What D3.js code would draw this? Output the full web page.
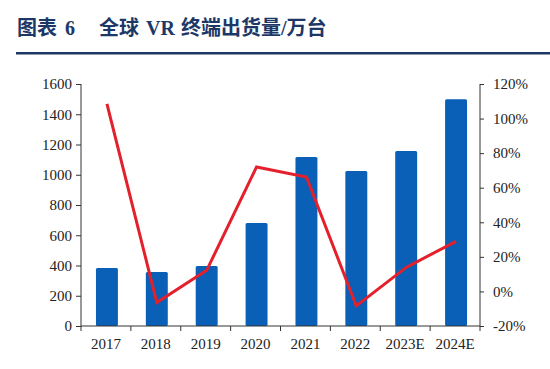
<!DOCTYPE html>
<html>
<head>
<meta charset="utf-8">
<script src="https://cdn.jsdelivr.net/npm/d3@7/dist/d3.min.js"></script>
<style>
  body { margin: 0; background: #fff; }
  .vis { width: 550px; height: 369px; }
  text { font-family: "Liberation Serif", "DejaVu Serif", serif; }
</style>
</head>
<body>
<div class="vis"></div>
<script>

//  data
var years = ["2017", "2018", "2019", "2020", "2021", "2022", "2023E", "2024E"];
var shipments = [383, 357, 397, 681, 1117, 1025, 1157, 1500];   // 万台
var growth = [108.5, -6.4, 12.2, 72, 66.2, -8.4, 13.9, 29];     // %
var leftTicks = [0, 200, 400, 600, 800, 1000, 1200, 1400, 1600];
var rightTicks = [-20, 0, 20, 40, 60, 80, 100, 120];

var svg = d3.select(".vis").append("svg")
	.attr("width", 550)
	.attr("height", 369);

// title + rule
var title = svg.append("text")
	.attr("x", 17)
	.attr("y", 35)
	.style("font-weight", "bold")
	.style("font-size", "20px")
	.style("white-space", "pre")
	.attr("fill", "#1d3766");

title.append("tspan").style("font-family", "'Noto Sans CJK SC', sans-serif").text("图表");
title.append("tspan").style("font-family", "'Liberation Serif', serif").attr("dx", 3).text(" 6    ");
title.append("tspan").style("font-family", "'Noto Sans CJK SC', sans-serif").attr("dx", 4).text("全球");
title.append("tspan").style("font-family", "'Liberation Serif', serif").attr("dx", 2).text(" VR ");
title.append("tspan").style("font-family", "'Noto Sans CJK SC', sans-serif").attr("dx", 1).text("终端出货量");
title.append("tspan").style("font-family", "'Liberation Serif', serif").text("/");
title.append("tspan").style("font-family", "'Noto Sans CJK SC', sans-serif").text("万台");

svg.append("rect")
	.attr("x", 16)
	.attr("y", 52)
	.attr("width", 534)
	.attr("height", 2.5)
	.attr("fill", "#1d3766");

var plot = { left: 81, right: 480, top: 84, bottom: 326 };

var x = d3.scaleBand()
	.domain(years)
	.range([plot.left, plot.right]);

var yL = d3.scaleLinear().domain([0, 1600]).range([plot.bottom, plot.top]);
var yR = d3.scaleLinear().domain([-20, 120]).range([plot.bottom, plot.top]);

var chart = svg.append("g");

// bars
var barW = x.bandwidth() * 0.44;
chart.selectAll(".bar")
	.data(shipments)
	.enter().append("rect")
	.attr("class", "bar")
	.attr("x", function(d, i) { return x(years[i]) + x.bandwidth() / 2 - barW / 2 + 1; })
	.attr("y", function(d) { return yL(d); })
	.attr("width", barW)
	.attr("height", function(d) { return plot.bottom - yL(d); })
	.attr("rx", 1.5)
	.attr("fill", "#0a5fb6");

// growth line
var line = d3.line()
	.x(function(d, i) { return x(years[i]) + x.bandwidth() / 2 + 1; })
	.y(function(d) { return yR(d); });

chart.append("path")
	.datum(growth)
	.attr("d", line)
	.attr("fill", "none")
	.attr("stroke", "#e3202b")
	.attr("stroke-width", 3)
	.attr("stroke-linejoin", "miter");

// axes
var axisColor = "#333";

var leftAxis = svg.append("g")
	.attr("transform", "translate(" + plot.left + ",0)")
	.call(d3.axisLeft(yL).tickValues(leftTicks).tickSize(5).tickPadding(4)
		.tickFormat(d3.format("d")));

var rightAxis = svg.append("g")
	.attr("transform", "translate(" + plot.right + ",0)")
	.call(d3.axisRight(yR).tickValues(rightTicks).tickSize(4).tickPadding(9)
		.tickFormat(function(d) { return d + "%"; }));

var bottomAxis = svg.append("g")
	.attr("transform", "translate(0," + plot.bottom + ")")
	.call(d3.axisBottom(x).tickSize(0).tickPadding(12));

// tick marks at category boundaries
bottomAxis.selectAll(".bound")
	.data(d3.range(years.length + 1))
	.enter().append("line")
	.attr("class", "bound")
	.attr("x1", function(i) { return plot.left + i * x.step(); })
	.attr("x2", function(i) { return plot.left + i * x.step(); })
	.attr("y1", 0)
	.attr("y2", 5)
	.attr("stroke", axisColor);

[leftAxis, rightAxis, bottomAxis].forEach(function(a) {
	a.select(".domain").attr("stroke", axisColor);
	a.selectAll(".tick line").attr("stroke", axisColor);
	a.selectAll("text")
		.style("font-family", "'Liberation Serif', serif")
		.style("font-size", "15px")
		.attr("fill", "#222");
});

// plain axis lines
leftAxis.select(".domain").attr("d", "M0," + plot.top + "V" + plot.bottom);
rightAxis.select(".domain").attr("d", "M0," + plot.top + "V" + plot.bottom);
bottomAxis.select(".domain").attr("d", "M" + plot.left + ",0H" + plot.right);

</script>
</body>
</html>
